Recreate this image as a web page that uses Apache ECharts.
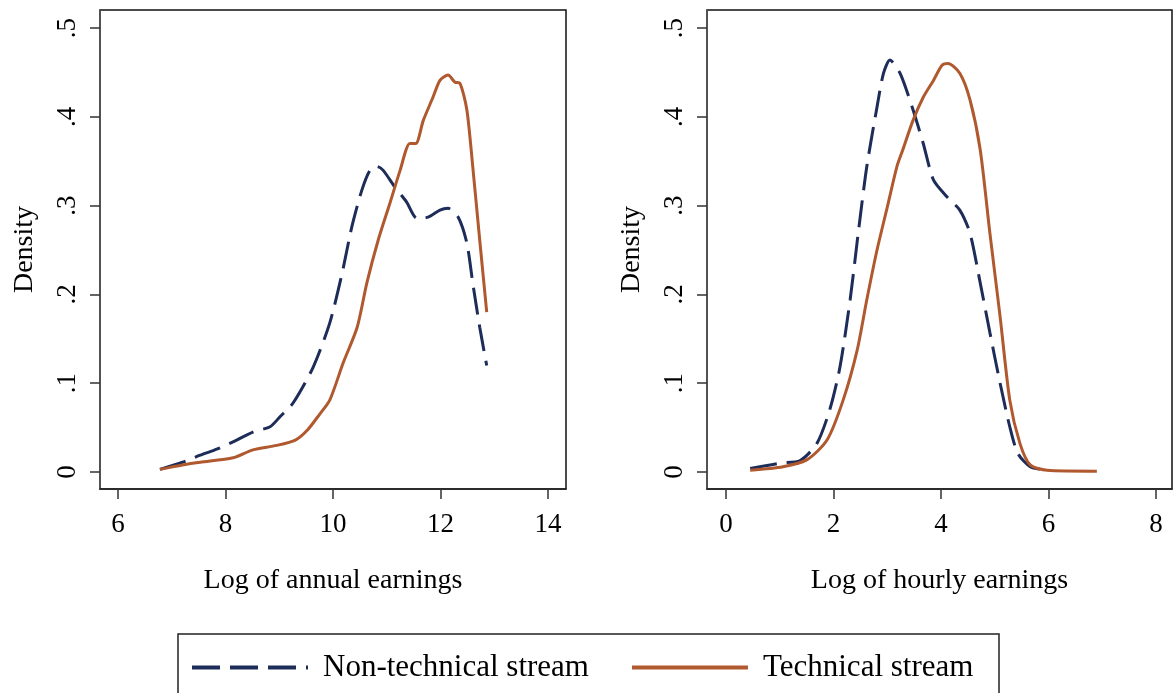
<!DOCTYPE html>
<html>
<head>
<meta charset="utf-8">
<script src="https://cdn.jsdelivr.net/npm/echarts@6/dist/echarts.min.js"></script>
<style>
html,body{margin:0;padding:0;background:#fff;}
#chart{width:1173px;height:693px;}
</style>
</head>
<body>
<div id="chart"></div>
<script>
// Panel titles and series names
const seriesNames = ['Non-technical stream', 'Technical stream'];
const panelTitles = ['Log of annual earnings', 'Log of hourly earnings'];
const yTicks = [0, 0.1, 0.2, 0.3, 0.4, 0.5];
const xTicksAnnual = [6, 8, 10, 12, 14];
const xTicksHourly = [0, 2, 4, 6, 8];

// Left panel: log of annual earnings
const annualNonTechX = [6.78, 7.2, 7.53, 7.85, 8.14, 8.51, 8.83, 9.01, 9.26, 9.63, 9.94, 10.17, 10.35, 10.54, 10.69, 10.82, 10.93, 11.15, 11.37, 11.56, 11.77, 11.99, 12.14, 12.33, 12.49, 12.60, 12.73, 12.86];
const annualNonTechY = [0.003, 0.011, 0.019, 0.026, 0.034, 0.045, 0.051, 0.062, 0.078, 0.118, 0.168, 0.224, 0.276, 0.318, 0.340, 0.344, 0.340, 0.321, 0.304, 0.286, 0.287, 0.295, 0.297, 0.287, 0.258, 0.213, 0.163, 0.120];
const annualTechX = [6.78, 7.2, 7.53, 8.14, 8.51, 8.95, 9.3, 9.52, 9.75, 9.94, 10.19, 10.45, 10.63, 10.84, 11.06, 11.25, 11.43, 11.54, 11.68, 11.86, 11.99, 12.14, 12.27, 12.36, 12.49, 12.60, 12.73, 12.86];
const annualTechY = [0.003, 0.008, 0.011, 0.016, 0.025, 0.030, 0.036, 0.047, 0.065, 0.081, 0.123, 0.163, 0.213, 0.261, 0.303, 0.340, 0.370, 0.370, 0.396, 0.422, 0.441, 0.447, 0.439, 0.438, 0.408, 0.344, 0.261, 0.180];

// Right panel: log of hourly earnings
const hourlyNonTechX = [0.45, 1.0, 1.38, 1.69, 1.93, 2.12, 2.31, 2.46, 2.62, 2.81, 2.93, 3.05, 3.24, 3.48, 3.67, 3.86, 4.11, 4.35, 4.54, 4.73, 4.91, 5.10, 5.28, 5.43, 5.66, 5.97];
const hourlyNonTechY = [0.004, 0.010, 0.013, 0.032, 0.070, 0.118, 0.194, 0.269, 0.344, 0.411, 0.449, 0.464, 0.449, 0.408, 0.370, 0.329, 0.310, 0.295, 0.269, 0.213, 0.157, 0.100, 0.051, 0.021, 0.006, 0.002];
const hourlyTechX = [0.45, 1.06, 1.51, 1.88, 2.18, 2.44, 2.62, 2.81, 3.00, 3.18, 3.29, 3.48, 3.67, 3.86, 4.02, 4.13, 4.35, 4.54, 4.73, 4.91, 5.10, 5.28, 5.47, 5.66, 5.97, 6.9];
const hourlyTechY = [0.002, 0.006, 0.014, 0.036, 0.081, 0.137, 0.194, 0.250, 0.298, 0.344, 0.363, 0.396, 0.422, 0.441, 0.458, 0.460, 0.449, 0.419, 0.363, 0.269, 0.175, 0.081, 0.032, 0.008, 0.002, 0.001];

const pair = (xs, ys) => xs.map((x, i) => [x, ys[i]]);
const NAVY = '#1d2c58';
const RUST = '#b0592e';
const FONT = '"Liberation Serif", "Times New Roman", serif';
const DASH_ICON = 'path://M0,0h28v4h-28z M38,0h28v4h-28z M76,0h28v4h-28z M114,0h2v4h-2z';

function xAxis(idx, min, max, ticks, title) {
  return {
    type: 'value', gridIndex: idx, min: min, max: max,
    name: title, nameLocation: 'middle', nameGap: 78,
    nameTextStyle: {fontFamily: FONT, fontSize: 28, color: '#000'},
    axisLine: {show: true, onZero: false, lineStyle: {color: '#222', width: 1.5}},
    axisTick: {show: true, inside: false, length: 10, customValues: ticks, lineStyle: {color: '#333', width: 1.5}},
    axisLabel: {show: true, margin: 22, customValues: ticks, fontFamily: FONT, fontSize: 27, color: '#000'},
    splitLine: {show: false}
  };
}
function yAxis(idx) {
  return {
    type: 'value', gridIndex: idx, min: -0.0191, max: 0.5203,
    name: 'Density', nameLocation: 'middle', nameGap: 61, nameRotate: 90,
    nameTextStyle: {fontFamily: FONT, fontSize: 28, color: '#000'},
    axisLine: {show: true, onZero: false, lineStyle: {color: '#555', width: 1.5}},
    axisTick: {show: true, inside: false, length: 10, customValues: yTicks, lineStyle: {color: '#333', width: 1.5}},
    axisLabel: {show: true, margin: 19, rotate: 90, customValues: yTicks, fontFamily: FONT, fontSize: 27, color: '#000',
      formatter: v => v === 0 ? '0' : String(Math.round(v * 10) / 10).replace(/^0/, '')},
    splitLine: {show: false}
  };
}
function line(name, idx, data, color, dashed) {
  return {
    name: name, type: 'line', xAxisIndex: idx, yAxisIndex: idx,
    data: data, showSymbol: false, symbol: 'none', smooth: 0.25,
    lineStyle: {color: color, width: 3, type: dashed ? [27, 10] : 'solid', cap: 'butt'},
    itemStyle: {color: color},
    animation: false
  };
}

const chart = echarts.init(document.getElementById('chart'), null, {renderer: 'canvas'});
chart.setOption({
  backgroundColor: '#fff',
  animation: false,
  grid: [
    {left: 100, top: 10, width: 466, height: 479, show: true, borderColor: '#111', borderWidth: 1.5, backgroundColor: '#fff'},
    {left: 707, top: 10, width: 465, height: 479, show: true, borderColor: '#111', borderWidth: 1.5, backgroundColor: '#fff'}
  ],
  xAxis: [
    xAxis(0, 5.665, 14.335, xTicksAnnual, panelTitles[0]),
    xAxis(1, -0.353, 8.298, xTicksHourly, panelTitles[1])
  ],
  yAxis: [yAxis(0), yAxis(1)],
  legend: {
    show: true, orient: 'horizontal',
    left: 192, top: 652, itemWidth: 116, itemHeight: 4, itemGap: 43,
    padding: 0,
    textStyle: {fontFamily: FONT, fontSize: 31, color: '#000', padding: [0, 0, 0, 10]},
    data: [
      {name: seriesNames[0], icon: DASH_ICON, itemStyle: {color: NAVY}},
      {name: seriesNames[1], icon: 'rect', itemStyle: {color: RUST}}
    ]
  },
  graphic: [
    {type: 'rect', shape: {x: 178, y: 634, width: 821, height: 62}, style: {fill: 'none', stroke: '#222', lineWidth: 1.5}, silent: true, z: -1}
  ],
  series: [
    line(seriesNames[0], 0, pair(annualNonTechX, annualNonTechY), NAVY, true),
    line(seriesNames[1], 0, pair(annualTechX, annualTechY), RUST, false),
    line(seriesNames[0], 1, pair(hourlyNonTechX, hourlyNonTechY), NAVY, true),
    line(seriesNames[1], 1, pair(hourlyTechX, hourlyTechY), RUST, false)
  ]
});
</script>
</body>
</html>
